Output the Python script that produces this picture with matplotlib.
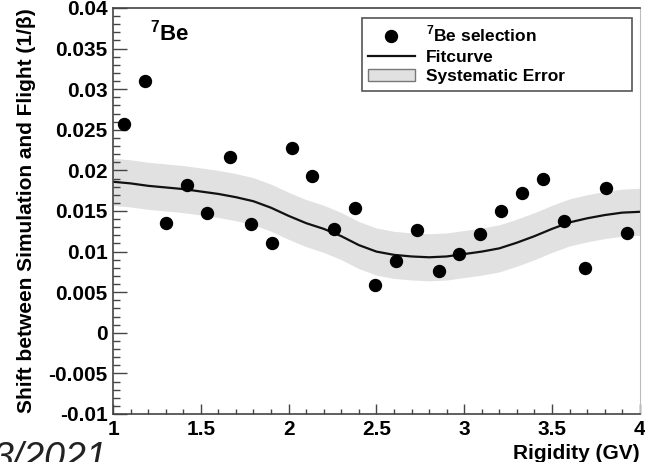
import matplotlib
matplotlib.use("Agg")
import matplotlib.pyplot as plt
from matplotlib.lines import Line2D
from matplotlib.patches import Patch
from matplotlib.ticker import MultipleLocator, FormatStrFormatter

plt.rcParams['font.family'] = ['Liberation Sans', 'DejaVu Sans']
plt.rcParams['font.weight'] = 'bold'
plt.rcParams['axes.unicode_minus'] = False
plt.rcParams['mathtext.fontset'] = 'custom'
plt.rcParams['mathtext.rm'] = 'Liberation Sans:bold'
plt.rcParams['mathtext.bf'] = 'Liberation Sans:bold'

# 7Be selection: shift per rigidity bin
rigidity = [1.062, 1.183, 1.303, 1.420, 1.538, 1.665, 1.784, 1.903, 2.019,
            2.136, 2.256, 2.377, 2.494, 2.612, 2.733, 2.854, 2.969, 3.091,
            3.210, 3.330, 3.449, 3.568, 3.686, 3.808, 3.927]
shift = [0.0257, 0.0310, 0.0135, 0.0182, 0.0148, 0.0217, 0.0134, 0.0110, 0.0227,
         0.0193, 0.0128, 0.0154, 0.0059, 0.0088, 0.0126, 0.0076, 0.0097, 0.0122,
         0.0150, 0.0172, 0.0190, 0.0138, 0.0080, 0.0178, 0.0123]

# fit curve, sampled every 0.1 GV
fit_x = [1.0, 1.1, 1.2, 1.3, 1.4, 1.5, 1.6, 1.7, 1.8, 1.9, 2.0, 2.1, 2.2, 2.3, 2.4,
         2.5, 2.6, 2.7, 2.8, 2.9, 3.0, 3.1, 3.2, 3.3, 3.4, 3.5, 3.6, 3.7, 3.8, 3.9, 4.0]
fit_y = [0.0186, 0.0184, 0.0181, 0.0179, 0.0177, 0.0174, 0.0171, 0.0167, 0.0162,
         0.0154, 0.0144, 0.0135, 0.0128, 0.0119, 0.0108, 0.0100, 0.0096, 0.0094,
         0.0093, 0.0094, 0.0097, 0.0100, 0.0104, 0.0111, 0.0119, 0.0128, 0.0136,
         0.0141, 0.0145, 0.0148, 0.0149]
sys_err = 0.0029

band_col = '#e1e1e1'
frame_col = '#444444'

fig = plt.figure(figsize=(6.45, 4.62), dpi=100)
ax = fig.add_axes([0.1752, 0.1039, 0.8168, 0.8788])

lo = [v - sys_err for v in fit_y]
hi = [v + sys_err for v in fit_y]
ax.fill_between(fit_x, lo, hi, color=band_col, lw=0, zorder=1)
ax.plot(fit_x, fit_y, color='#111111', lw=1.6, zorder=2)
ax.plot(rigidity, shift, 'o', color='black', ms=8.6, zorder=3)

ax.set_xlim(1, 4)
ax.set_ylim(-0.01, 0.04)
ax.xaxis.set_major_locator(MultipleLocator(0.5))
ax.xaxis.set_minor_locator(MultipleLocator(0.1))
ax.yaxis.set_major_locator(MultipleLocator(0.005))
ax.yaxis.set_minor_locator(MultipleLocator(0.001))
ax.xaxis.set_major_formatter(FormatStrFormatter('%g'))
ax.yaxis.set_major_formatter(FormatStrFormatter('%g'))

ax.tick_params(axis='both', which='both', direction='in', color=frame_col,
               labelsize=15, top=False, right=False)
ax.tick_params(axis='y', which='major', length=10, width=1, pad=4)
ax.tick_params(axis='y', which='minor', length=5, width=1)
ax.tick_params(axis='x', which='major', length=7.2, width=1, pad=4)
ax.tick_params(axis='x', which='minor', length=3.6, width=1)

for side in ['left', 'bottom', 'top']:
    ax.spines[side].set_color(frame_col)
    ax.spines[side].set_linewidth(1.2)
ax.spines['right'].set_color('#bbbbbb')

ax.set_xlabel('Rigidity (GV)', fontsize=15, fontweight='bold')
ax.xaxis.set_label_coords(1.0, -0.075)
ax.xaxis.label.set_horizontalalignment('right')
ax.set_ylabel('Shift between Simulation and Flight (1/β)', fontsize=15, fontweight='bold')
ax.yaxis.set_label_coords(-0.146, 0.5)

ax.text(0.07, 0.94, r'$^{7}$Be', transform=ax.transAxes, fontsize=16,
        fontweight='bold', va='center', ha='left')

handles = [Line2D([], [], marker='o', ls='none', color='black', ms=8.6),
           Line2D([], [], color='#111111', lw=1.6),
           Patch(facecolor=band_col, edgecolor='#777777')]
labels = [r'$^{7}$Be selection', 'Fitcurve', 'Systematic Error']
leg = ax.legend(handles, labels, loc='upper left',
                bbox_to_anchor=(0.4725, 0.813, 0.5125, 0.162), mode='expand',
                borderaxespad=0, fancybox=False, framealpha=1, edgecolor='#555555',
                prop={'size': 12.5, 'weight': 'bold'}, handlelength=2.7,
                handletextpad=0.65, labelspacing=0.27, borderpad=0.35)
leg.get_frame().set_linewidth(1.2)

fig.text(-0.012, 0.046, '3/2021', fontsize=27, style='italic', fontweight='normal',
         color='#222222', va='top', ha='left')

fig.savefig('out.png', dpi=100)
